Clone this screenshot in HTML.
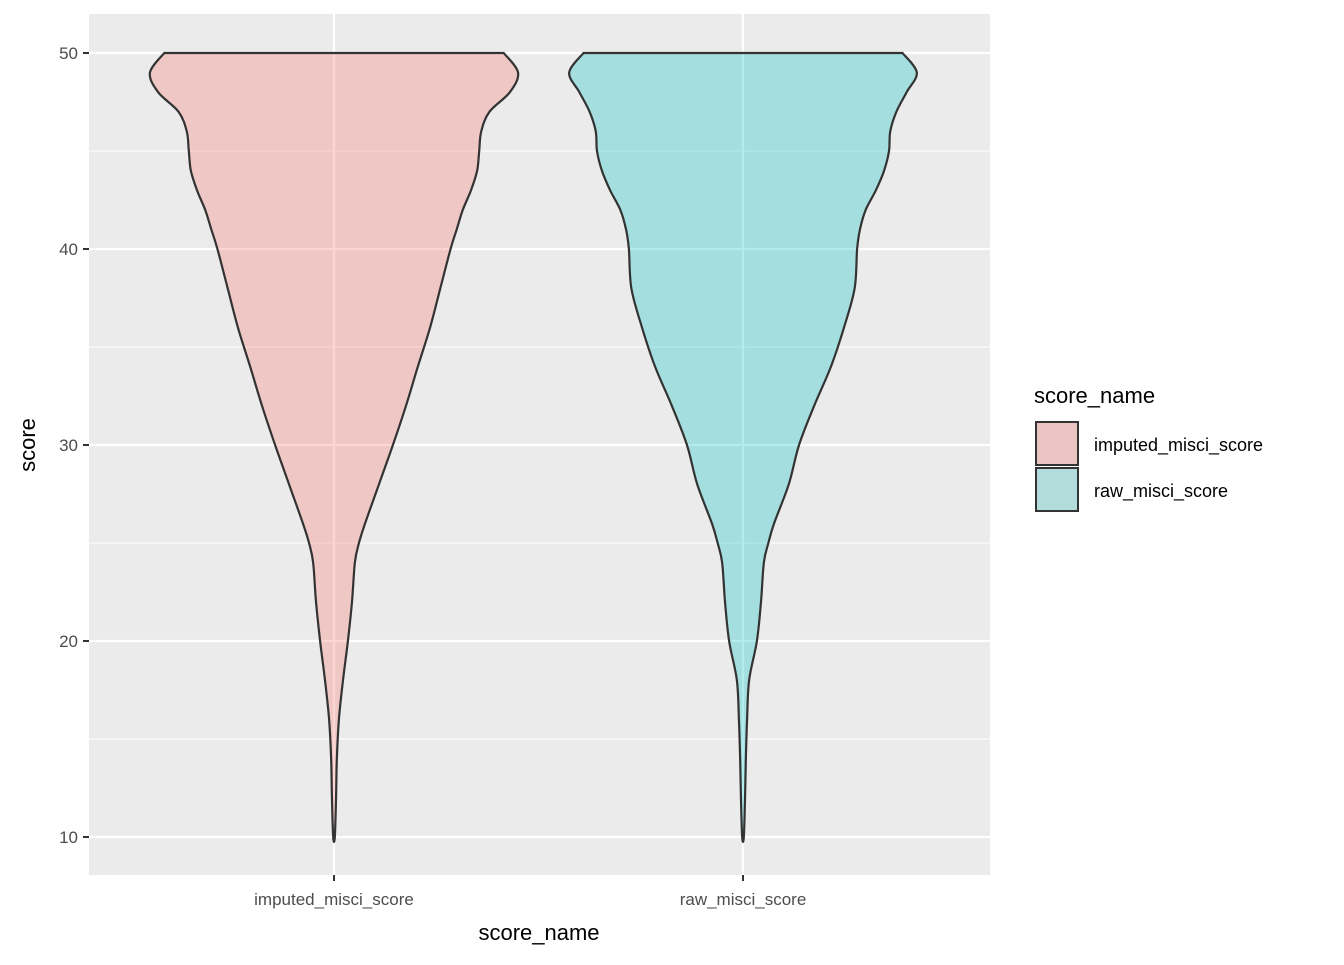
<!DOCTYPE html>
<html><head><meta charset="utf-8"><style>
body{margin:0;background:#fff;}
svg text{font-family:"Liberation Sans",Arial,sans-serif;}
</style></head><body>
<svg id="chart" width="1344" height="960" xmlns="http://www.w3.org/2000/svg">
<rect x="89" y="14" width="901" height="861" fill="#EBEBEB"/>
<g id="grid"></g>
<g id="violins"></g>
<g id="axes"></g>
<text transform="translate(35,445) rotate(-90)" text-anchor="middle" font-size="22" fill="#000">score</text>
<text x="539" y="940" text-anchor="middle" font-size="22" fill="#000">score_name</text>
<g>
<text x="1034" y="403" font-size="22" fill="#000">score_name</text>
<rect x="1036" y="422" width="42" height="43" fill="#E9C4C3" stroke="#333" stroke-width="2"/>
<text x="1094" y="451" font-size="18" fill="#000">imputed_misci_score</text>
<rect x="1036" y="468" width="42" height="43" fill="#B2DBDC" stroke="#333" stroke-width="2"/>
<text x="1094" y="497" font-size="18" fill="#000">raw_misci_score</text>
</g>
</svg>
<script>
const categories=["imputed_misci_score","raw_misci_score"];
const scoreLevels=[50,49,48,47,46,45,44,43,42,41,40,38,36,34,32,30,28,26,25,24,22,20,18,16,14,12,10];
const imputedWidths=[0.415,0.45,0.43,0.38,0.36,0.355,0.35,0.335,0.315,0.30,0.285,0.26,0.235,0.205,0.176,0.144,0.11,0.076,0.061,0.051,0.044,0.034,0.022,0.012,0.007,0.005,0.002];
const rawWidths=[0.39,0.425,0.40,0.375,0.36,0.357,0.345,0.325,0.30,0.286,0.279,0.273,0.247,0.215,0.174,0.137,0.112,0.076,0.062,0.051,0.044,0.034,0.015,0.01,0.007,0.005,0.002];
const yTicks=[10,20,30,40,50];
const yMinor=[15,25,35,45];
const fills=["#F8766D","#00BFC4"];
const NS="http://www.w3.org/2000/svg";
const y=v=>53+(50-v)*19.6;
const x=i=>334+i*409;
const wpx=w=>w*409;
function mk(tag,attrs,parent){const e=document.createElementNS(NS,tag);for(const k in attrs)e.setAttribute(k,attrs[k]);parent.appendChild(e);return e;}
const grid=document.getElementById('grid'),vg=document.getElementById('violins'),ax=document.getElementById('axes');
yMinor.forEach(v=>{const l=mk('line',{x1:89,x2:990,y1:y(v),y2:y(v),stroke:'#fff','stroke-width':1.1},grid);

});
yTicks.forEach(v=>{const l=mk('line',{x1:89,x2:990,y1:y(v),y2:y(v),stroke:'#fff','stroke-width':2.2},grid);


const t=mk('line',{x1:83,x2:89,y1:y(v),y2:y(v),stroke:'#333','stroke-width':2},ax);


const tx=mk('text',{x:78,y:y(v)+6,'text-anchor':'end','font-size':17,fill:'#4D4D4D'},ax);tx.textContent=v;

});
categories.forEach((c,i)=>{const l=mk('line',{x1:x(i),x2:x(i),y1:14,y2:875,stroke:'#fff','stroke-width':2.2},grid);


const t=mk('line',{x1:x(i),x2:x(i),y1:875,y2:881,stroke:'#333','stroke-width':2},ax);


const tx=mk('text',{x:x(i),y:905,'text-anchor':'middle','font-size':17,fill:'#4D4D4D'},ax);tx.textContent=c;

});
[imputedWidths,rawWidths].forEach((ws,i)=>{
  const right=scoreLevels.map((s,j)=>[x(i)+wpx(ws[j]),y(s)]);
  const left=scoreLevels.map((s,j)=>[x(i)-wpx(ws[j]),y(s)]).reverse();
  const pts=right.concat(left);
  // smooth with Catmull-Rom
  let d='M'+pts[0][0]+','+pts[0][1];
  for(let k=0;k<pts.length-1;k++){const p0=pts[Math.max(k-1,0)],p1=pts[k],p2=pts[k+1],p3=pts[Math.min(k+2,pts.length-1)];
    const c1=[p1[0]+(p2[0]-p0[0])/6,p1[1]+(p2[1]-p0[1])/6],c2=[p2[0]-(p3[0]-p1[0])/6,p2[1]-(p3[1]-p1[1])/6];
    d+=' C'+c1+' '+c2+' '+p2;}
  d+=' Z';
  const p=mk('path',{d:d,fill:fills[i],'fill-opacity':0.3,stroke:'#333','stroke-width':2.2},vg);
  
  
});
</script>
</body></html>
